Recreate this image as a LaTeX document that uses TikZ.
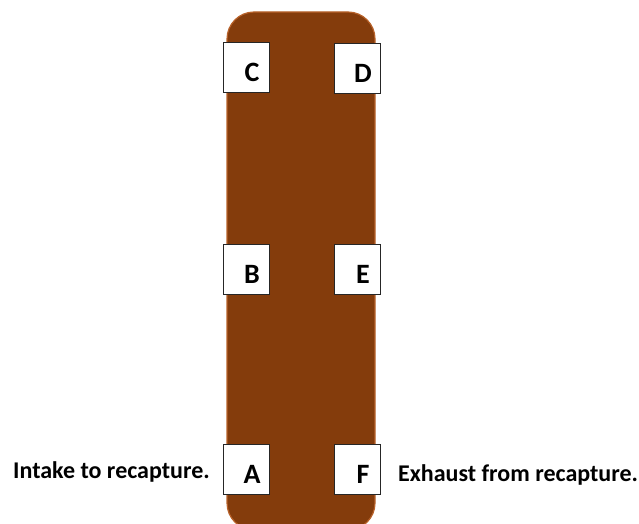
\documentclass[tikz,border=0pt]{standalone}
\usepackage{fontspec}
\setmainfont{Carlito}
\definecolor{body}{HTML}{843C0C}
\definecolor{bodyedge}{HTML}{B8622A}
\tikzset{
  port/.style={draw=black!85, line width=0.9bp, fill=white, minimum width=46bp, minimum height=50bp, inner sep=0pt},
  portletter/.style={font=\bfseries\fontsize{28bp}{32bp}\selectfont, anchor=center},
  caption/.style={font=\bfseries\fontsize{24bp}{28bp}\selectfont, inner sep=0pt}
}
\begin{document}
\begin{tikzpicture}[x=1bp,y=-1bp]
\useasboundingbox (0,0) rectangle (639,524);
\path[fill=body, draw=bodyedge, line width=1.2bp, rounded corners=27bp] (227,12) rectangle (375,530);
\node[port] (C) at (246,67) {};
\node[port] (D) at (357,68) {};
\node[port] (B) at (246,269) {};
\node[port] (E) at (357,269) {};
\node[port] (A) at (246,469) {};
\node[port] (F) at (357,469) {};
\node[portletter] at ([xshift=6bp,yshift=-5bp]C.center) {C};
\node[portletter] at ([xshift=6bp,yshift=-5bp]D.center) {D};
\node[portletter] at ([xshift=6bp,yshift=-5bp]B.center) {B};
\node[portletter] at ([xshift=6bp,yshift=-5bp]E.center) {E};
\node[portletter] at ([xshift=6bp,yshift=-5bp]A.center) {A};
\node[portletter] at ([xshift=6bp,yshift=-5bp]F.center) {F};
\node[caption, anchor=base east] (intake) at (210,478) {Intake to recapture.};
\node[caption, anchor=base west] (exhaust) at (398,481) {Exhaust from recapture.};
\end{tikzpicture}
\end{document}
